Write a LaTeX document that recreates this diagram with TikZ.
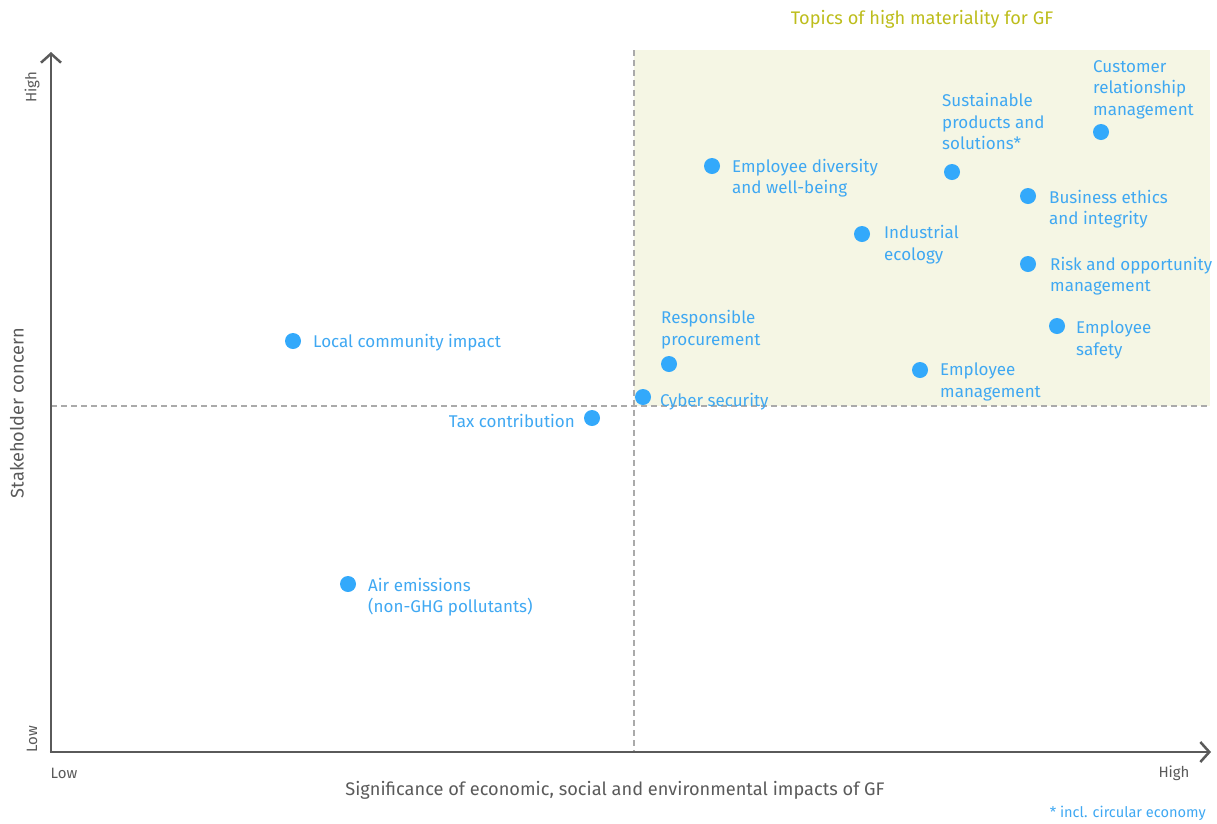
\documentclass[tikz,border=0pt]{standalone}
\usepackage{fontspec}
\setmainfont{Fira Sans}
\usetikzlibrary{arrows.meta}
\definecolor{dotblue}{HTML}{33A9FB}
\definecolor{lblblue}{HTML}{3FA8F2}
\definecolor{axisgray}{HTML}{5A5A5A}
\definecolor{dashgray}{HTML}{AAAAAA}
\definecolor{greenfill}{HTML}{F5F6E4}
\definecolor{olive}{HTML}{BDBD1C}
\tikzset{
  dot/.style={circle,fill=dotblue,minimum size=16pt,inner sep=0pt},
  lbl/.style={text=lblblue,font=\fontsize{17}{21.5}\selectfont,align=left,anchor=west,inner sep=0pt},
  axis/.style={draw=axisgray,line width=2.5pt,-{Straight Barb[length=9pt,width=20pt,line width=2.5pt]}},
  dashline/.style={draw=dashgray,line width=1.2pt,dash pattern=on 6pt off 4pt},
  axlbl/.style={text=axisgray,font=\fontsize{15}{16}\selectfont,inner sep=0pt},
  bigtxt/.style={font=\fontsize{18.2}{20}\selectfont,inner sep=0pt},
}
\begin{document}
\begin{tikzpicture}[x=1pt,y=-1pt]
\useasboundingbox (0,0) rectangle (1217,823);
\fill[greenfill] (634,50) rectangle (1210,406);
\coordinate (vtop) at (634,50);
\coordinate (vbot) at (634,752);
\coordinate (hl) at (51,406);
\coordinate (hr) at (1210,406);
\draw[dashline] (vtop) -- (vbot);
\draw[dashline] (hl) -- (hr);
\coordinate (origin) at (51,752);
\coordinate (ytip) at (51,52);
\coordinate (xtip) at (1211,752);
\draw[axis] (origin) -- (ytip);
\draw[axis] ([xshift=-1.25pt]origin) -- (xtip);
\node[axlbl,rotate=90] (yhigh) at (32,87) {High};
\node[axlbl,rotate=90] (ylow) at (32,739) {Low};
\node[axlbl] (xlow) at (64,773) {Low};
\node[axlbl] (xhigh) at (1174,773) {High};
\node[axlbl,bigtxt] (xtitle) at (615,790) {Significance of economic, social and environmental impacts of GF};
\node[axlbl,bigtxt,rotate=90] (ytitle) at (17,413) {Stakeholder concern};
\node[text=olive,bigtxt] (title) at (922,19) {Topics of high materiality for GF};
\node[text=lblblue,font=\fontsize{14.6}{16}\selectfont,anchor=east,inner sep=0pt] (foot) at (1206,813) {* incl. circular economy};

\node[dot] (d1) at (712,166) {};
\node[lbl] (l1) at (732,178) {Employee diversity\\and well-being};
\node[dot] (d2) at (952,172) {};
\node[lbl] (l2) at (942,121.5) {Sustainable\\products and\\solutions*};
\node[dot] (d3) at (1101,132) {};
\node[lbl] (l3) at (1093,89.5) {Customer\\relationship\\management};
\node[dot] (d4) at (1028,196) {};
\node[lbl] (l4) at (1049,209) {Business ethics\\and integrity};
\node[dot] (d5) at (862,234) {};
\node[lbl] (l5) at (884,244.5) {Industrial\\ecology};
\node[dot] (d6) at (1028,264) {};
\node[lbl] (l6) at (1050,276) {Risk and opportunity\\management};
\node[dot] (d7) at (1057,326) {};
\node[lbl] (l7) at (1076,340) {Employee\\safety};
\node[dot] (d8) at (669,364) {};
\node[lbl] (l8) at (661,329.5) {Responsible\\procurement};
\node[dot] (d9) at (920,370) {};
\node[lbl] (l9) at (940,382) {Employee\\management};
\node[dot] (d10) at (643,397) {};
\node[lbl] (l10) at (660,401.5) {Cyber security};
\node[dot] (d11) at (592,418) {};
\node[lbl,anchor=east] (l11) at (575,420.5) {Tax contribution};
\node[dot] (d12) at (293,341) {};
\node[lbl] (l12) at (313,342.5) {Local community impact};
\node[dot] (d13) at (348,584) {};
\node[lbl] (l13) at (368,597) {Air emissions\\(non-GHG pollutants)};
\end{tikzpicture}
\end{document}
